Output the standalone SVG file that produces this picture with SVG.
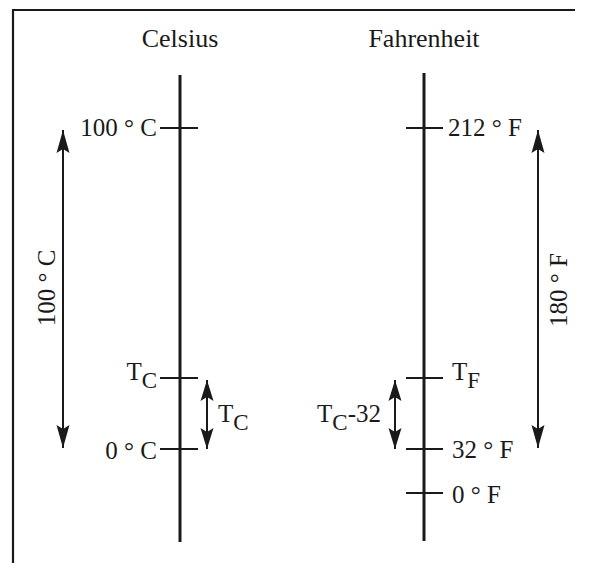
<svg xmlns="http://www.w3.org/2000/svg" width="596" height="563" viewBox="0 0 596 563">
<defs>
<style>
text{font-family:"Liberation Serif","Times New Roman",serif;fill:#1a1a1a}
.t{font-size:26px}
.l{font-size:25px}
.s{font-size:23px}
.ax{stroke:#1a1a1a;stroke-width:3;fill:none}
.tk{stroke:#1a1a1a;stroke-width:1.8;fill:none}
.ar{stroke:#1a1a1a;stroke-width:2;fill:none;marker-start:url(#ah);marker-end:url(#ah)}
.ar2{stroke:#1a1a1a;stroke-width:2;fill:none;marker-start:url(#ah2);marker-end:url(#ah2)}
</style>
<marker id="ah" viewBox="-24 -7 24 14" refX="0" refY="0" markerWidth="24" markerHeight="14" markerUnits="userSpaceOnUse" orient="auto-start-reverse">
<path d="M0,0 L-23,-6.5 L-19,0 L-23,6.5 Z" fill="#1a1a1a"/>
</marker>
<marker id="ah2" viewBox="-22 -7 22 14" refX="0" refY="0" markerWidth="22" markerHeight="14" markerUnits="userSpaceOnUse" orient="auto-start-reverse">
<path d="M0,0 L-21,-6.5 L-17,0 L-21,6.5 Z" fill="#1a1a1a"/>
</marker>
</defs>
<rect width="596" height="563" fill="#fff"/>
<g id="frame">
<path d="M13,563 L13,10 L575,10" fill="none" stroke="#1a1a1a" stroke-width="2.2"/>
</g>
<g id="celsius">
<text class="t" x="180" y="47" text-anchor="middle">Celsius</text>
<line class="ax" x1="180" y1="75" x2="180" y2="542"/>
<line class="tk" x1="160" y1="128" x2="198" y2="128"/>
<text class="l" x="157" y="136" text-anchor="end">100 ° C</text>
<line class="tk" x1="160" y1="378" x2="198" y2="378"/>
<text x="157" y="380" text-anchor="end"><tspan class="l">T</tspan><tspan class="s" dy="8">C</tspan></text>
<line class="tk" x1="160" y1="449" x2="198" y2="449"/>
<text class="l" x="157" y="459" text-anchor="end">0 ° C</text>
</g>
<g id="fahrenheit">
<text class="t" x="424" y="47" text-anchor="middle">Fahrenheit</text>
<line class="ax" x1="424" y1="73" x2="424" y2="541"/>
<line class="tk" x1="406" y1="128" x2="443" y2="128"/>
<text class="l" x="448" y="136">212 ° F</text>
<line class="tk" x1="406" y1="378" x2="443" y2="378"/>
<text x="452" y="380"><tspan class="l">T</tspan><tspan class="s" dy="8">F</tspan></text>
<line class="tk" x1="406" y1="449" x2="443" y2="449"/>
<text class="l" x="452" y="458">32 ° F</text>
<line class="tk" x1="406" y1="493" x2="443" y2="493"/>
<text class="l" x="452" y="503">0 ° F</text>
</g>
<g id="connectors">
<line class="ar" x1="63" y1="130" x2="63" y2="448"/>
<line class="ar" x1="538" y1="130" x2="538" y2="448"/>
<line class="ar2" x1="207" y1="380" x2="207" y2="449"/>
<line class="ar2" x1="395" y1="380" x2="395" y2="449"/>
</g>
<g id="labels">
<text class="l" transform="translate(55,288) rotate(-90)" text-anchor="middle">100 ° C</text>
<text class="l" transform="translate(567,290) rotate(-90)" text-anchor="middle">180 ° F</text>
<text x="218" y="422"><tspan class="l">T</tspan><tspan class="s" dy="8">C</tspan></text>
<text x="317" y="422"><tspan class="l">T</tspan><tspan class="s" dy="8">C</tspan><tspan class="l" dy="-8">-32</tspan></text>
</g>
</svg>
